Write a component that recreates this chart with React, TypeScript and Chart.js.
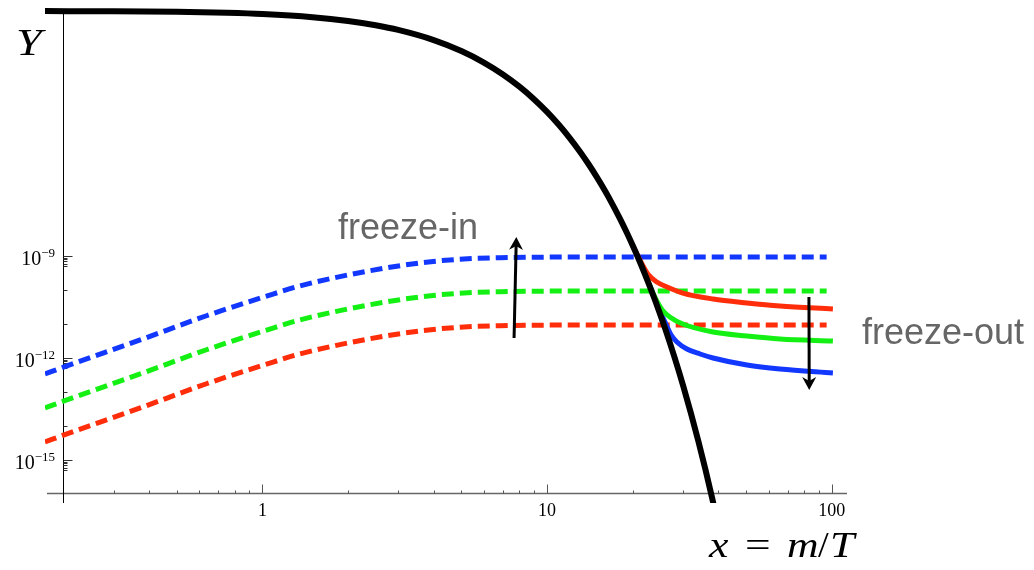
import React, { useEffect, useRef } from "react";
import { Chart, registerables } from "chart.js";

Chart.register(...registerables);

// ---- axis ranges ----
const X_MIN = 0.1723;
const X_MAX = 113.2;
const Y_MIN = 5.43e-17;
const Y_MAX = 1.968e-2;
const AXIS_CROSS_X = 0.2;
const AXIS_CROSS_Y = 1e-16;

// ---- equilibrium yield (black) ----
const eqX = [0.1723, 0.3, 0.5, 0.75, 1, 1.5, 2, 2.5, 3, 4, 5, 6, 7, 8, 9, 10, 11, 12, 13, 14, 15, 16, 17, 18, 19, 20, 21, 22, 23, 24, 25, 26, 27, 28, 29, 30, 32, 34, 36, 38, 39.5];
const eqY = [
  1.596e-2, 1.574e-2, 1.517e-2, 1.419e-2, 1.306e-2, 1.054e-2, 8.15e-3, 6.1e-3, 4.45e-3, 2.239e-3,
  1.067e-3, 4.9e-4, 2.183e-4, 9.53e-5, 4.09e-5, 1.729e-5, 7.22e-6, 2.99e-6, 1.225e-6, 4.99e-7,
  2.018e-7, 8.13e-8, 3.25e-8, 1.297e-8, 5.14e-9, 2.033e-9, 8.02e-10, 3.15e-10, 1.236e-10, 4.83e-11,
  1.884e-11, 7.33e-12, 2.84e-12, 1.102e-12, 4.27e-13, 1.648e-13, 2.44e-14, 3.61e-15, 5.31e-16, 7.78e-17,
  1.836e-17,
];

// ---- freeze-in (dashed) ----
const fiX = [0.1723, 0.2, 0.372, 0.64, 1.09, 1.356, 2.33, 3.98, 6.84, 15.4, 96];
const fiBlueY = [3.39e-13, 5.37e-13, 3.39e-12, 1.778e-11, 7.59e-11, 1.318e-10, 3.55e-10, 6.92e-10, 8.91e-10, 9.33e-10, 9.33e-10];
const fiGreenY = [3.39e-14, 5.37e-14, 3.39e-13, 1.778e-12, 7.59e-12, 1.318e-11, 3.55e-11, 6.92e-11, 8.91e-11, 9.33e-11, 9.33e-11];
const fiRedY = [3.39e-15, 5.37e-15, 3.39e-14, 1.778e-13, 7.59e-13, 1.318e-12, 3.55e-12, 6.92e-12, 8.91e-12, 9.33e-12, 9.33e-12];

// ---- freeze-out (solid) ----
const foRedX = [20.0, 21.38, 22.6, 24.3, 26.4, 30.0, 38.3, 50.4, 65.8, 101];
const foRedY = [2.033e-9, 6.67e-10, 2.95e-10, 1.72e-10, 1.23e-10, 8.13e-11, 5.43e-11, 4.17e-11, 3.39e-11, 2.75e-11];
const foGreenX = [22.6, 24.2, 25.4, 27.0, 30.0, 38.3, 50.4, 65.8, 101];
const foGreenY = [1.79e-10, 5.08e-11, 2.58e-11, 1.61e-11, 1.0e-11, 5.82e-12, 4.44e-12, 3.63e-12, 3.16e-12];
const foBlueX = [24.3, 25.97, 27.3, 28.6, 31.0, 34.5, 38.3, 50.4, 65.8, 101];
const foBlueY = [3.64e-11, 1.146e-11, 4.74e-12, 2.96e-12, 1.84e-12, 1.31e-12, 1.0e-12, 6.22e-13, 4.74e-13, 3.62e-13];

// ---- ticks ----
const xMajorTicks = [1, 10, 100];
const xTickLabels = ["1", "10", "100"];
const xMinorTicks = [0.3, 0.4, 0.5, 0.6, 0.7, 0.8, 0.9, 2, 3, 4, 5, 6, 7, 8, 9, 20, 30, 40, 50, 60, 70, 80, 90];
const yMajorTicks = [1e-9, 1e-12, 1e-15];
const yTickExponents = ["\u22129", "\u221212", "\u221215"];
const yMinorTicks = [
  9e-10, 8e-10, 7e-10, 6e-10, 5e-10, 1e-10, 1e-11,
  9e-13, 8e-13, 7e-13, 6e-13, 5e-13, 1e-13, 1e-14,
  9e-16, 8e-16, 7e-16, 6e-16, 5e-16,
];

// ---- annotations ----
const arrowUp = { x0: 7.66, y0: 3.89e-12, x1: 7.8, y1: 3.63e-9 };
const arrowDown = { x0: 83.2, y0: 6.22e-11, x1: 83.4, y1: 1.15e-13 };

const BLUE = "#1237ff";
const GREEN = "#14f014";
const RED = "#ff2d0a";

const pts = (xs: number[], ys: number[]) => xs.map((x, i) => ({ x, y: ys[i] }));

function drawArrow(ctx: CanvasRenderingContext2D, ax: number, ay: number, bx: number, by: number) {
  const ang = Math.atan2(by - ay, bx - ax);
  const len = 13;
  const hw = 7;
  const notch = 9;
  const ux = Math.cos(ang), uy = Math.sin(ang);
  const px = -uy, py = ux;
  ctx.save();
  ctx.strokeStyle = "#000";
  ctx.fillStyle = "#000";
  ctx.lineWidth = 3;
  ctx.beginPath();
  ctx.moveTo(ax, ay);
  ctx.lineTo(bx - ux * notch, by - uy * notch);
  ctx.stroke();
  ctx.beginPath();
  ctx.moveTo(bx, by);
  ctx.lineTo(bx - ux * len + px * hw, by - uy * len + py * hw);
  ctx.lineTo(bx - ux * notch, by - uy * notch);
  ctx.lineTo(bx - ux * len - px * hw, by - uy * len - py * hw);
  ctx.closePath();
  ctx.fill();
  ctx.restore();
}

function wideText(ctx: CanvasRenderingContext2D, text: string, x: number, y: number, sx: number) {
  ctx.save();
  ctx.translate(x, y);
  ctx.scale(sx, 1);
  ctx.fillText(text, 0, 0);
  ctx.restore();
}

const axesPlugin = {
  id: "customAxes",
  beforeDatasetsDraw(chart: any) {
    const { ctx, chartArea } = chart;
    const xs = chart.scales.x;
    const ys = chart.scales.y;
    const x0 = Math.round(xs.getPixelForValue(AXIS_CROSS_X)) + 0.5;
    const y0 = Math.round(ys.getPixelForValue(AXIS_CROSS_Y)) - 0.5;
    ctx.save();
    // x axis
    ctx.strokeStyle = "#666";
    ctx.lineWidth = 1.4;
    ctx.beginPath();
    ctx.moveTo(chartArea.left + 2, y0);
    ctx.lineTo(chartArea.right, y0);
    ctx.stroke();
    ctx.lineWidth = 1;
    ctx.strokeStyle = "#555";
    for (const v of xMajorTicks) {
      const p = Math.round(xs.getPixelForValue(v)) + 0.5;
      ctx.beginPath();
      ctx.moveTo(p, y0);
      ctx.lineTo(p, y0 - 9);
      ctx.stroke();
    }
    for (const v of xMinorTicks) {
      const p = Math.round(xs.getPixelForValue(v)) + 0.5;
      ctx.beginPath();
      ctx.moveTo(p, y0);
      ctx.lineTo(p, y0 - 3);
      ctx.stroke();
    }
    // y axis
    ctx.strokeStyle = "#000";
    ctx.lineWidth = 1;
    ctx.beginPath();
    ctx.moveTo(x0, chartArea.top + 4);
    ctx.lineTo(x0, chartArea.bottom);
    ctx.stroke();
    ctx.strokeStyle = "#333";
    for (const v of yMajorTicks) {
      const p = Math.round(ys.getPixelForValue(v)) + 0.5;
      ctx.beginPath();
      ctx.moveTo(x0, p);
      ctx.lineTo(x0 + 9, p);
      ctx.stroke();
    }
    for (const v of yMinorTicks) {
      const p = Math.round(ys.getPixelForValue(v)) + 0.5;
      ctx.beginPath();
      ctx.moveTo(x0, p);
      ctx.lineTo(x0 + 4, p);
      ctx.stroke();
    }
    // tick labels
    ctx.fillStyle = "#000";
    ctx.textBaseline = "alphabetic";
    ctx.font = '18px "Liberation Serif", serif';
    ctx.textAlign = "center";
    xMajorTicks.forEach((v, i) => {
      const p = xs.getPixelForValue(v);
      ctx.fillText(xTickLabels[i], p, y0 + 22);
    });
    yMajorTicks.forEach((v, i) => {
      const p = ys.getPixelForValue(v);
      const right = 55;
      ctx.font = '13px "Liberation Serif", serif';
      const supW = ctx.measureText(yTickExponents[i]).width;
      ctx.textAlign = "left";
      ctx.fillText(yTickExponents[i], right - supW, p + 1);
      ctx.font = '20px "Liberation Serif", serif';
      const baseW = ctx.measureText("10").width;
      ctx.fillText("10", right - supW - baseW, p + 9);
    });
    ctx.restore();
  },
  afterDatasetsDraw(chart: any) {
    const { ctx } = chart;
    const xs = chart.scales.x;
    const ys = chart.scales.y;
    for (const a of [arrowUp, arrowDown]) {
      drawArrow(
        ctx,
        xs.getPixelForValue(a.x0),
        ys.getPixelForValue(a.y0),
        xs.getPixelForValue(a.x1),
        ys.getPixelForValue(a.y1)
      );
    }
    ctx.save();
    ctx.textBaseline = "alphabetic";
    ctx.textAlign = "left";
    ctx.fillStyle = "#666";
    ctx.font = '36px "Liberation Sans", Arial, sans-serif';
    ctx.fillText("freeze-in", 338, 239);
    ctx.fillText("freeze-out", 862, 344);
    ctx.fillStyle = "#000";
    ctx.font = 'italic 38px "Liberation Serif", serif';
    wideText(ctx, "Y", 16, 55, 1.22);
    ctx.font = 'italic 35px "Liberation Serif", serif';
    wideText(ctx, "x", 709, 557, 1.25);
    wideText(ctx, "m", 787, 557, 1.25);
    wideText(ctx, "T", 830, 557, 1.25);
    ctx.font = '35px "Liberation Serif", serif';
    wideText(ctx, "=", 745, 557, 1.3);
    wideText(ctx, "/", 818, 557, 1.1);
    ctx.restore();
  },
};

export default function App() {
  const ref = useRef<HTMLCanvasElement | null>(null);
  useEffect(() => {
    if (!ref.current) return;
    const lineDs = (label: string, data: any[], color: string, dashed: boolean, width: number, order: number) => ({
      label,
      data,
      borderColor: color,
      backgroundColor: color,
      borderWidth: width,
      borderDash: dashed ? [12, 6] : [],
      borderCapStyle: "butt" as const,
      pointRadius: 0,
      fill: false,
      cubicInterpolationMode: "monotone" as const,
      order,
      clip: 0,
    });
    const chart = new Chart(ref.current, {
      type: "line",
      data: {
        datasets: [
          lineDs("Y_eq", pts(eqX, eqY), "#000", false, 6, 0),
          lineDs("freeze-out red", pts(foRedX, foRedY), RED, false, 5, 1),
          lineDs("freeze-out green", pts(foGreenX, foGreenY), GREEN, false, 5, 2),
          lineDs("freeze-out blue", pts(foBlueX, foBlueY), BLUE, false, 5, 3),
          lineDs("freeze-in blue", pts(fiX, fiBlueY), BLUE, true, 5, 4),
          lineDs("freeze-in green", pts(fiX, fiGreenY), GREEN, true, 5, 5),
          lineDs("freeze-in red", pts(fiX, fiRedY), RED, true, 5, 6),
        ],
      },
      options: {
        responsive: false,
        animation: false,
        parsing: true,
        layout: { padding: { left: 45, right: 187, top: 8, bottom: 67 } },
        plugins: { legend: { display: false }, tooltip: { enabled: false } },
        scales: {
          x: { type: "logarithmic", min: X_MIN, max: X_MAX, bounds: "data", display: false },
          y: { type: "logarithmic", min: Y_MIN, max: Y_MAX, bounds: "data", display: false },
        },
      },
      plugins: [axesPlugin],
    });
    return () => chart.destroy();
  }, []);
  return (
    <div style={{ position: "absolute", left: 0, top: 0, width: 1034, height: 570, background: "#fff" }}>
      <canvas ref={ref} width={1034} height={570} style={{ display: "block" }} />
    </div>
  );
}
